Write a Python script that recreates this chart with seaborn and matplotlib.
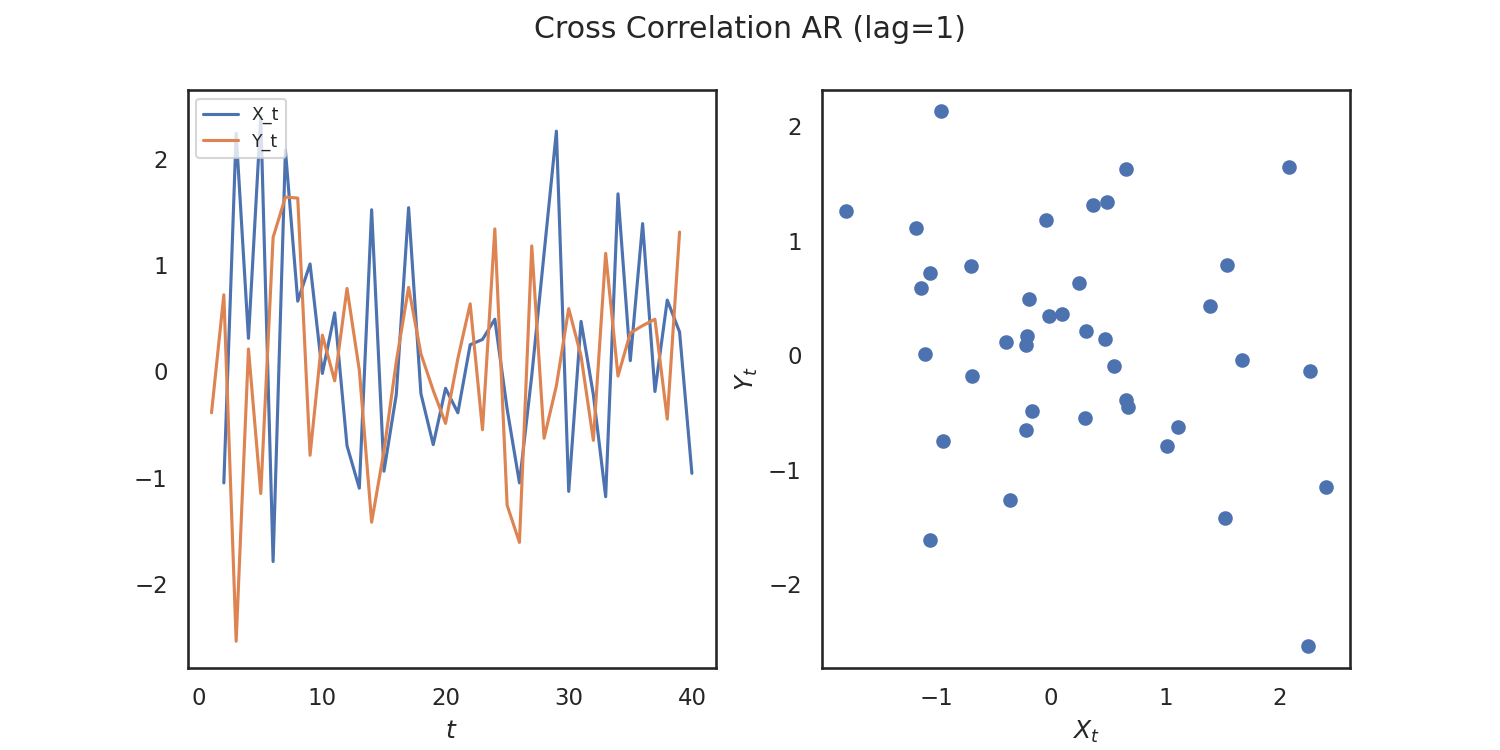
import numpy as np
import matplotlib
matplotlib.use("Agg")
import matplotlib.pyplot as plt
import seaborn as sns

# time index and the two AR series
t = np.arange(1, 41)
x_t = [0.66, -1.05, 2.24, 0.31, 2.40, -1.79, 2.08, 0.66, 1.01, -0.02,
       0.55, -0.70, -1.10, 1.52, -0.94, -0.22, 1.54, -0.21, -0.69, -0.16,
       -0.39, 0.25, 0.30, 0.49, -0.355, -1.05, -0.04, 1.11, 2.26, -1.13,
       0.47, -0.22, -1.18, 1.67, 0.10, 1.39, -0.19, 0.67, 0.37, -0.96]
y_t = [-0.39, 0.72, -2.54, 0.21, -1.15, 1.26, 1.64, 1.63, -0.79, 0.34,
       -0.09, 0.78, 0.01, -1.42, -0.75, 0.09, 0.79, 0.165, -0.18, -0.49,
       0.12, 0.635, -0.55, 1.34, -1.26, -1.61, 1.18, -0.63, -0.135, 0.59,
       0.145, -0.65, 1.11, -0.045, 0.36, 0.43, 0.49, -0.45, 1.31, 2.13]

sns.set_theme(style="white")

fig, axes = plt.subplots(1, 2, figsize=(10, 5), dpi=150)
fig.suptitle("Cross Correlation AR (lag=1)")

# left: the two series over time (X shown from t=2, Y up to t=39)
ax = axes[0]
sns.lineplot(x=t[1:], y=x_t[1:], ax=ax, label="X_t", color="C0")
sns.lineplot(x=t[:-1], y=y_t[:-1], ax=ax, label="Y_t", color="C1")
ax.set_xlabel("$t$")
ax.legend(loc="upper left", fontsize="x-small")

# right: scatter of X_t against Y_t
ax = axes[1]
sns.scatterplot(x=x_t, y=y_t, ax=ax, color="C0", edgecolor="C0",
                linewidth=1, s=36)
ax.margins(x=0.05, y=0.04)
ax.set_xlabel("$X_t$")
ax.set_ylabel("$Y_t$")

plt.savefig("out.png", dpi=150)
plt.close()
